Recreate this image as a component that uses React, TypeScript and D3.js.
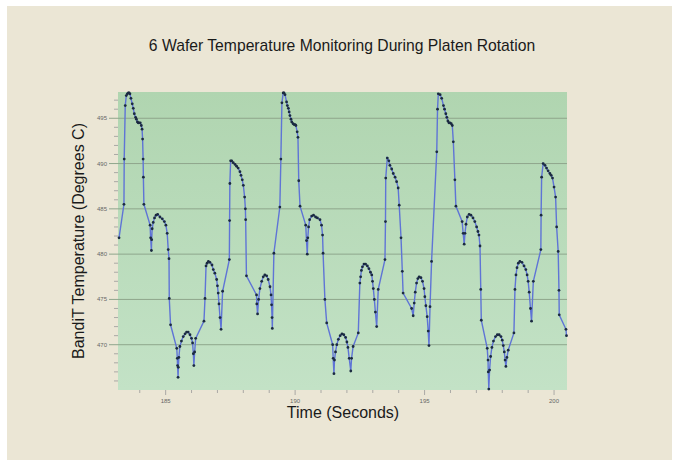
import React, { useEffect, useRef } from 'react';
import * as d3 from 'd3';

const TITLE = '6 Wafer Temperature Monitoring During Platen Rotation';
const X_TICKS = [185, 190, 195, 200];
const Y_TICKS = [470, 475, 480, 485, 490, 495];

// [time (s), temperature (C)]
const SAMPLES: [number, number][] = [
  [183.20, 481.8], [183.39, 485.5], [183.40, 490.5], [183.44, 496.4], [183.48, 497.5], [183.52, 497.7],
  [183.56, 497.8], [183.59, 497.8], [183.62, 497.7], [183.66, 497.2], [183.71, 496.6], [183.75, 496.1],
  [183.79, 495.5], [183.84, 495.1], [183.87, 494.9], [183.91, 494.6], [183.94, 494.5], [183.97, 494.5],
  [184.02, 494.5], [184.06, 494.2], [184.09, 493.8], [184.11, 492.7], [184.13, 490.5], [184.14, 488.5],
  [184.16, 485.5], [184.40, 483.2], [184.42, 481.8], [184.45, 480.4], [184.46, 481.6], [184.48, 482.8],
  [184.52, 483.5], [184.57, 484.0], [184.63, 484.3], [184.69, 484.4], [184.78, 484.1], [184.87, 483.9],
  [184.95, 483.6], [185.01, 483.2], [185.06, 482.3], [185.10, 480.5], [185.13, 479.5], [185.14, 475.1],
  [185.19, 472.2], [185.43, 469.6], [185.45, 468.5], [185.46, 467.7], [185.48, 466.4], [185.49, 467.5],
  [185.51, 468.6], [185.55, 469.8], [185.61, 470.4], [185.68, 470.9], [185.75, 471.2], [185.81, 471.4],
  [185.87, 471.4], [185.94, 471.1], [186.00, 470.7], [186.04, 470.2], [186.07, 469.0], [186.09, 467.7],
  [186.12, 469.2], [186.16, 470.7], [186.48, 472.6], [186.52, 475.1], [186.56, 478.7], [186.60, 479.0],
  [186.65, 479.2], [186.71, 479.1], [186.79, 478.8], [186.84, 478.3], [186.90, 477.9], [186.97, 477.2],
  [187.00, 476.5], [187.03, 475.7], [187.06, 474.5], [187.10, 473.0], [187.14, 471.7], [187.20, 475.9],
  [187.46, 479.4], [187.47, 483.7], [187.48, 487.8], [187.51, 490.3], [187.55, 490.3], [187.61, 490.1],
  [187.68, 489.9], [187.74, 489.7], [187.80, 489.5], [187.87, 489.1], [187.91, 488.7], [187.96, 488.2],
  [188.00, 487.6], [188.05, 486.3], [188.08, 485.0], [188.09, 483.8], [188.12, 477.6], [188.51, 475.5],
  [188.52, 474.5], [188.55, 473.4], [188.59, 475.0], [188.64, 476.2], [188.71, 477.0], [188.77, 477.5],
  [188.83, 477.7], [188.90, 477.6], [188.96, 477.2], [189.03, 476.4], [189.07, 475.5], [189.09, 474.4],
  [189.11, 473.0], [189.12, 471.8], [189.18, 480.1], [189.41, 485.2], [189.45, 490.5], [189.49, 496.7],
  [189.54, 497.8], [189.57, 497.8], [189.61, 497.6], [189.67, 496.8], [189.70, 496.4], [189.74, 496.1],
  [189.77, 495.7], [189.80, 495.3], [189.84, 494.9], [189.87, 494.6], [189.92, 494.4], [189.96, 494.3],
  [190.00, 494.3], [190.03, 494.2], [190.08, 493.5], [190.11, 492.9], [190.14, 488.1], [190.19, 485.3],
  [190.41, 483.2], [190.44, 481.5], [190.47, 480.0], [190.49, 481.8], [190.52, 483.0], [190.56, 483.8],
  [190.64, 484.2], [190.71, 484.3], [190.79, 484.1], [190.86, 484.0], [190.96, 483.8], [191.02, 483.2],
  [191.06, 482.1], [191.08, 480.1], [191.15, 475.0], [191.22, 472.4], [191.45, 470.0], [191.47, 468.5],
  [191.50, 466.8], [191.52, 468.3], [191.56, 469.2], [191.61, 470.0], [191.67, 470.6], [191.74, 471.0],
  [191.81, 471.2], [191.88, 471.1], [191.95, 470.8], [192.00, 470.3], [192.04, 469.7], [192.09, 468.5],
  [192.15, 467.1], [192.18, 468.5], [192.24, 469.8], [192.44, 471.3], [192.50, 476.8], [192.53, 477.5],
  [192.56, 478.2], [192.60, 478.6], [192.66, 478.9], [192.72, 478.9], [192.79, 478.7], [192.85, 478.4],
  [192.91, 478.0], [192.96, 477.7], [192.99, 477.0], [193.02, 476.2], [193.06, 475.0], [193.10, 473.6],
  [193.15, 472.0], [193.21, 476.1], [193.47, 479.4], [193.49, 483.6], [193.50, 488.4], [193.56, 490.6],
  [193.62, 490.3], [193.66, 489.8], [193.73, 489.4], [193.79, 488.9], [193.86, 488.5], [193.92, 488.0],
  [193.98, 487.3], [194.02, 485.4], [194.09, 481.8], [194.14, 478.1], [194.17, 475.7], [194.50, 474.0],
  [194.56, 473.2], [194.60, 474.6], [194.64, 475.8], [194.69, 476.8], [194.74, 477.3], [194.79, 477.5],
  [194.86, 477.4], [194.92, 477.0], [194.98, 476.2], [195.01, 475.3], [195.05, 474.3], [195.10, 473.1],
  [195.14, 471.5], [195.17, 469.9], [195.21, 474.2], [195.27, 479.2], [195.47, 491.3], [195.50, 496.0],
  [195.53, 497.7], [195.60, 497.6], [195.66, 497.2], [195.73, 496.4], [195.77, 496.0], [195.82, 495.5],
  [195.86, 495.1], [195.90, 494.7], [195.94, 494.5], [195.98, 494.5], [196.03, 494.4], [196.07, 494.2],
  [196.11, 492.4], [196.17, 488.2], [196.21, 485.3], [196.45, 483.6], [196.49, 482.3], [196.53, 481.1],
  [196.56, 482.3], [196.60, 483.3], [196.65, 484.1], [196.72, 484.4], [196.79, 484.3], [196.87, 484.0],
  [196.94, 483.6], [197.01, 483.0], [197.06, 482.5], [197.10, 482.1], [197.14, 480.9], [197.17, 476.1],
  [197.19, 472.7], [197.42, 469.6], [197.45, 468.3], [197.46, 467.0], [197.48, 465.1], [197.51, 467.2],
  [197.55, 468.7], [197.60, 469.7], [197.66, 470.4], [197.74, 470.9], [197.81, 471.1], [197.88, 471.1],
  [197.95, 470.9], [198.00, 470.5], [198.04, 469.9], [198.08, 469.2], [198.11, 468.3], [198.14, 467.6],
  [198.18, 468.6], [198.23, 469.4], [198.45, 471.3], [198.49, 476.1], [198.53, 477.7], [198.57, 478.5],
  [198.62, 479.0], [198.68, 479.2], [198.76, 479.1], [198.84, 478.7], [198.91, 478.3], [198.96, 477.7],
  [199.00, 477.0], [199.04, 475.8], [199.09, 474.0], [199.13, 472.6], [199.20, 477.0], [199.49, 480.5],
  [199.50, 484.3], [199.52, 488.5], [199.58, 490.0], [199.65, 489.8], [199.71, 489.5], [199.77, 489.2],
  [199.84, 488.9], [199.89, 488.7], [199.94, 488.4], [200.00, 487.4], [200.06, 486.3], [200.10, 483.0],
  [200.16, 480.3], [200.19, 476.0], [200.20, 473.3], [200.46, 471.7], [200.48, 471.0],
];

export default function App() {
  const svgRef = useRef<SVGSVGElement>(null);

  useEffect(() => {
    if (!svgRef.current) return;
    const width = 673;
    const height = 460;
    const svg = d3.select(svgRef.current);
    svg.selectAll('*').remove();

    const left = 118, right = 567, top = 92, bottom = 390;
    const x = d3.scaleLinear().domain([183.16, 200.5]).range([left, right]);
    const y = d3.scaleLinear().domain([465, 497.9]).range([bottom, top]);
    const font = 'Liberation Sans, Arial, sans-serif';

    svg.append('rect').attr('width', width).attr('height', height).attr('fill', '#ffffff');
    svg.append('rect').attr('x', 7).attr('y', 6).attr('width', 665).attr('height', 454).attr('fill', '#ebe6d5');

    const grad = svg.append('defs').append('linearGradient')
      .attr('id', 'plotbg').attr('x1', 0).attr('y1', 0).attr('x2', 0).attr('y2', 1);
    grad.append('stop').attr('offset', '0%').attr('stop-color', '#b0d5b0');
    grad.append('stop').attr('offset', '100%').attr('stop-color', '#c3e2c6');

    svg.append('rect')
      .attr('x', left).attr('y', top)
      .attr('width', right - left).attr('height', bottom - top)
      .attr('fill', 'url(#plotbg)');

    // horizontal grid + y ticks
    Y_TICKS.forEach(v => {
      svg.append('line')
        .attr('x1', left - 9).attr('x2', right)
        .attr('y1', y(v)).attr('y2', y(v))
        .attr('stroke', '#8fa68c').attr('stroke-width', 1);
      svg.append('text')
        .attr('x', left - 11).attr('y', y(v) + 2)
        .attr('text-anchor', 'end')
        .attr('font-family', font)
        .attr('font-size', 6).attr('fill', '#666')
        .text(v);
    });
    d3.range(466, 498).filter(v => v % 5 !== 0).forEach(v => {
      svg.append('line')
        .attr('x1', left - 4).attr('x2', left)
        .attr('y1', y(v)).attr('y2', y(v))
        .attr('stroke', '#999').attr('stroke-width', 0.8);
    });

    // x ticks
    d3.range(184, 201).forEach(v => {
      const major = X_TICKS.includes(v);
      svg.append('line')
        .attr('x1', x(v)).attr('x2', x(v))
        .attr('y1', bottom).attr('y2', bottom + (major ? 5 : 3))
        .attr('stroke', '#999').attr('stroke-width', 0.8);
    });
    X_TICKS.forEach(v => {
      svg.append('text')
        .attr('x', x(v)).attr('y', bottom + 13)
        .attr('text-anchor', 'middle')
        .attr('font-family', font)
        .attr('font-size', 6).attr('fill', '#666')
        .text(v);
    });

    const line = d3.line<[number, number]>().x(d => x(d[0])).y(d => y(d[1]));
    svg.append('path')
      .datum(SAMPLES)
      .attr('d', line)
      .attr('fill', 'none')
      .attr('stroke', '#5f74d6')
      .attr('stroke-width', 1.4);

    svg.append('g').selectAll('circle')
      .data(SAMPLES)
      .enter()
      .append('circle')
      .attr('cx', d => x(d[0]))
      .attr('cy', d => y(d[1]))
      .attr('r', 1.4)
      .attr('fill', '#1b2a40');

    svg.append('text')
      .attr('x', 342).attr('y', 51)
      .attr('text-anchor', 'middle')
      .attr('font-family', font)
      .attr('font-size', 15.7).attr('fill', '#1a1a1a')
      .text(TITLE);

    svg.append('text')
      .attr('x', 343).attr('y', 418)
      .attr('text-anchor', 'middle')
      .attr('font-family', font)
      .attr('font-size', 16).attr('fill', '#1a1a1a')
      .text('Time (Seconds)');

    svg.append('text')
      .attr('transform', `translate(84,${(top + bottom) / 2}) rotate(-90)`)
      .attr('text-anchor', 'middle')
      .attr('font-family', font)
      .attr('font-size', 16).attr('fill', '#1a1a1a')
      .text('BandiT Temperature (Degrees C)');
  }, []);

  return <svg ref={svgRef} width={673} height={460} style={{ display: 'block', position: 'absolute', left: 0, top: 0 }} />;
}
